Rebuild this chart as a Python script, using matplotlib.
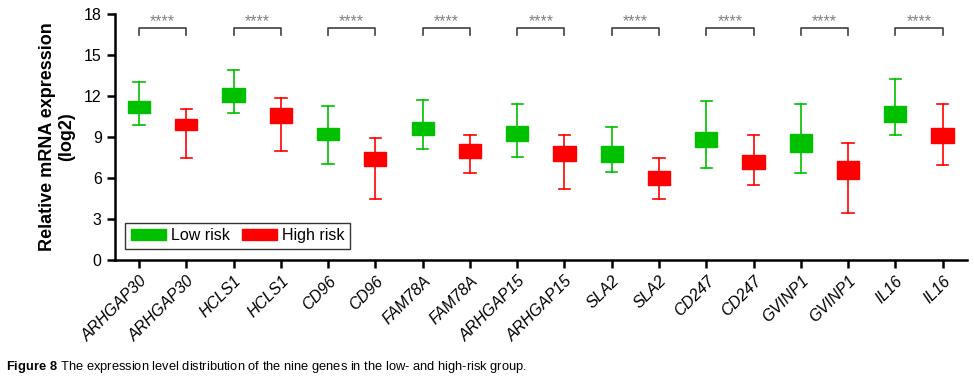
import matplotlib
matplotlib.use("Agg")
import matplotlib.pyplot as plt
from matplotlib.patches import Patch

plt.rcParams['font.family'] = ['Liberation Sans', 'DejaVu Sans']
plt.rcParams['mathtext.fontset'] = 'custom'
plt.rcParams['mathtext.rm'] = 'Liberation Sans'
plt.rcParams['mathtext.bf'] = 'Liberation Sans:bold'

genes = ['ARHGAP30', 'HCLS1', 'CD96', 'FAM78A', 'ARHGAP15', 'SLA2', 'CD247', 'GVINP1', 'IL16']

# whisker low, q1, q3, whisker high
low_whislo = [9.9, 10.73, 7.0, 8.12, 7.56, 6.44, 6.75, 6.39, 9.12]
low_q1 = [10.73, 11.58, 8.76, 9.19, 8.68, 7.19, 8.29, 7.9, 10.1]
low_q3 = [11.65, 12.63, 9.68, 10.07, 9.85, 8.34, 9.39, 9.24, 11.27]
low_whishi = [13.07, 13.88, 11.29, 11.75, 11.46, 9.73, 11.68, 11.46, 13.26]

high_whislo = [7.49, 8.0, 4.44, 6.34, 5.22, 4.44, 5.49, 3.44, 6.93]
high_q1 = [9.49, 10.0, 6.88, 7.49, 7.24, 5.49, 6.68, 5.95, 8.58]
high_q3 = [10.34, 11.12, 7.88, 8.51, 8.34, 6.51, 7.68, 7.22, 9.68]
high_whishi = [11.07, 11.83, 8.97, 9.12, 9.17, 7.44, 9.17, 8.58, 11.46]

green = '#00c000'
red = '#ff0000'

fig = plt.figure(figsize=(9.74, 3.83), dpi=100)
ax = fig.add_axes([0.118, 0.321, 0.875, 0.642])

for i, g in enumerate(genes):
    for j, (lo, q1, q3, hi, col) in enumerate([
            (low_whislo[i], low_q1[i], low_q3[i], low_whishi[i], green),
            (high_whislo[i], high_q1[i], high_q3[i], high_whishi[i], red)]):
        st = [dict(whislo=lo, q1=q1, med=(q1 + q3) / 2, q3=q3, whishi=hi, fliers=[])]
        ax.bxp(st, positions=[2 * i + j], widths=0.47, patch_artist=True,
               showfliers=False,
               boxprops=dict(facecolor=col, edgecolor=col, linewidth=1),
               medianprops=dict(color=col, linewidth=1),
               whiskerprops=dict(color=col, linewidth=1.2),
               capprops=dict(color=col, linewidth=1.2),
               capwidths=0.24, manage_ticks=False)
    # significance bracket
    x0, x1 = 2 * i, 2 * i + 1
    ax.plot([x0, x0, x1, x1], [16.5, 17, 17, 16.5], color='#404040', lw=1.2, clip_on=False)
    ax.text((x0 + x1) / 2, 17.15, '****', ha='center', va='baseline',
            fontsize=11.5, color='#808080')

ax.set_xlim(-0.51, 17.52)
ax.set_ylim(0, 18)
ax.set_yticks(range(0, 19, 3))
ax.set_xticks(range(2 * len(genes)))
labels = []
for g in genes:
    labels += [g, g]
ax.set_xticklabels(labels, rotation=45, ha='right', rotation_mode='anchor',
                   fontstyle='italic', fontsize=11.5)
ax.tick_params(axis='y', labelsize=11.5)
ax.tick_params(width=1.8, length=6, direction='out', color='black')
for s in ['top', 'right']:
    ax.spines[s].set_visible(False)
for s in ['left', 'bottom']:
    ax.spines[s].set_linewidth(1.8)

ax.set_ylabel('Relative mRNA expression\n(log2)', fontsize=13, fontweight='bold',
              labelpad=6)

handles = [Patch(facecolor=green, edgecolor=green, label='Low risk'),
           Patch(facecolor=red, edgecolor=red, label='High risk')]
leg = ax.legend(handles=handles, loc='lower left', bbox_to_anchor=(0.012, 0.045),
                ncol=2, fontsize=11.5, frameon=True, fancybox=False,
                handlelength=2.2, handleheight=0.7, columnspacing=0.8,
                handletextpad=0.3, borderpad=0.35, borderaxespad=0)
leg.get_frame().set_edgecolor('black')
leg.get_frame().set_linewidth(1.0)

fig.text(0.006, 0.02, r'$\bf{Figure\ 8}$ The expression level distribution of the nine genes in the low- and high-risk group.',
         fontsize=9.3, ha='left', va='bottom')

fig.savefig('out.png', dpi=100)
